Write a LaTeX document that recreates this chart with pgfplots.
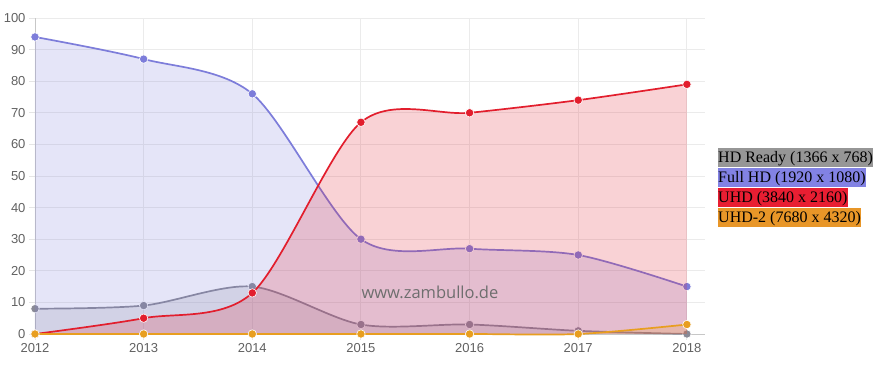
\documentclass[border=0pt]{standalone}
\usepackage{pgfplots}
\pgfplotsset{compat=1.18}
\usepackage{fontspec}
\setmainfont{Liberation Sans}
\newfontfamily\legfont{Liberation Serif}
\newfontfamily\wmfont{Open Sans}
\definecolor{hdr}{RGB}{138,138,150}
\definecolor{fhd}{RGB}{125,125,218}
\definecolor{uhd}{RGB}{226,30,45}
\definecolor{uhdb}{RGB}{232,158,32}
\definecolor{lgGray}{RGB}{150,150,150}
\definecolor{lgBlue}{RGB}{130,130,228}
\definecolor{lgRed}{RGB}{232,30,50}
\definecolor{lgOrange}{RGB}{232,150,40}
\pgfplotstableread{
year hdr fhd uhd uhdb
2012 8 94 0 0
2013 9 87 5 0
2014 15 76 13 0
2015 3 30 67 0
2016 3 27 70 0
2017 1 25 74 0
2018 0 15 79 3
}\data
\begin{document}
\begin{tikzpicture}[x=1pt,y=1pt]
\path[use as bounding box] (-35,-40) rectangle (860,334);
\begin{axis}[
  at={(0,0)}, anchor=south west,
  scale only axis, width=670pt, height=316pt,
  xmin=2012, xmax=2018.1667, ymin=0, ymax=100,
  xtick={2012,...,2018}, ytick={0,10,...,100},
  grid=major, grid style={draw=black!8, line width=0.8pt},
  axis x line=bottom, axis y line=left,
  axis line style={draw=black!22, -, line width=0.8pt},
  tick align=outside, major tick length=6pt,
  tick style={draw=black!10, line width=0.8pt},
  tick label style={font=\fontsize{13}{13}\selectfont, text=black!62},
  /pgf/number format/assume math mode=true,
  /pgf/number format/1000 sep={},
  clip=false, clip marker paths=true,
  fillst/.style={draw=none, fill=#1, fill opacity=0.2, smooth, tension=0.5, forget plot},
  linest/.style={draw=#1, smooth, tension=0.5, line width=1.7pt,
     mark=*, mark size=4.2pt, mark options={draw=white, fill=#1, line width=0.6pt}},
]
\addplot[fillst=hdr] table[x=year,y=hdr]{\data} \closedcycle;
\addplot[linest=hdr] table[x=year,y=hdr]{\data};
\addplot[fillst=fhd] table[x=year,y=fhd]{\data} \closedcycle;
\addplot[linest=fhd] table[x=year,y=fhd]{\data};
\addplot[fillst=uhd] table[x=year,y=uhd]{\data} \closedcycle;
\addplot[linest=uhd] table[x=year,y=uhd]{\data};
\addplot[fillst=uhdb] table[x=year,y=uhdb]{\data} \closedcycle;
\addplot[linest=uhdb] table[x=year,y=uhdb]{\data};
\node[text=black!57, font=\wmfont\fontsize{16.5}{16.5}\selectfont] at (axis cs:2015.635,13.3) {www.zambullo.de};
\end{axis}
\begin{scope}[every node/.style={anchor=west, inner xsep=0pt, inner ysep=1pt, text height=13pt, text depth=4pt, font=\legfont\fontsize{16}{16}\selectfont}]
\node[fill=lgGray] at (683,176) {HD Ready (1366 x 768)};
\node[fill=lgBlue] at (683,156) {Full HD (1920 x 1080)};
\node[fill=lgRed] at (683,136) {UHD (3840 x 2160)};
\node[fill=lgOrange] at (683,116) {UHD-2 (7680 x 4320)};
\end{scope}
\end{tikzpicture}
\end{document}
